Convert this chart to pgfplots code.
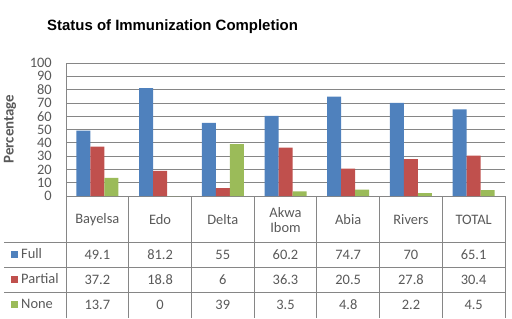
\documentclass[border=0pt]{standalone}
\usepackage{pgfplots}
\pgfplotsset{compat=1.18}
\usepackage{fontspec}
\setmainfont{Carlito}
\newfontfamily\titlefont{Liberation Sans}
\definecolor{cFull}{HTML}{4F81BD}
\definecolor{cPartial}{HTML}{C0504D}
\definecolor{cNone}{HTML}{9BBB59}
\definecolor{gridc}{HTML}{868686}
\definecolor{txt}{HTML}{595959}
\begin{document}
\begin{tikzpicture}[x=1bp,y=1bp]
\useasboundingbox (0,0) rectangle (512,318);
\begin{axis}[
  at={(66bp,122bp)}, anchor=south west,
  scale only axis, width=439bp, height=133bp,
  xmin=-0.5, xmax=6.5, ymin=0, ymax=100,
  ybar=0pt, bar width=14bp,
  axis lines*=left,
  axis line style={draw=gridc, line width=0.8bp, -},
  xtick=\empty,
  ytick={0,10,...,100},
  ymajorgrids, grid style={gridc, line width=0.8bp},
  major tick length=0pt,
  /pgf/number format/assume math mode=true,
  yticklabel style={font=\fontsize{14.5}{15}\selectfont, text=txt, anchor=east, inner sep=0pt, xshift=-14bp},
]
\addplot[fill=cFull, draw=none] coordinates {(0,49.1) (1,81.2) (2,55) (3,60.2) (4,74.7) (5,70) (6,65.1)};
\addplot[fill=cPartial, draw=none] coordinates {(0,37.2) (1,18.8) (2,6) (3,36.3) (4,20.5) (5,27.8) (6,30.4)};
\addplot[fill=cNone, draw=none] coordinates {(0,13.7) (1,0) (2,39) (3,3.5) (4,4.8) (5,2.2) (6,4.5)};
\end{axis}
% title and y label
\node[anchor=base west, inner sep=0pt, font=\titlefont\bfseries\fontsize{15}{18}\selectfont] at (47,288) {Status of Immunization Completion};
\node[rotate=90, inner sep=0pt, text=txt, font=\bfseries\fontsize{15}{18}\selectfont] at (10,189) {Percentage};
% data table
\draw[gridc, line width=0.8bp] (4,76) -- (505,76) (4,51) -- (505,51) (4,26) -- (505,26);
\foreach \k in {0,...,7} \draw[gridc, line width=0.8bp] ({66+62.714*\k},122) -- ({66+62.714*\k},0);
\foreach \lab [count=\i from 0] in {Bayelsa,Edo,Delta,{Akwa\\Ibom},Abia,Rivers,TOTAL}
  \node[align=center, text=txt, inner sep=0pt, font=\fontsize{14.5}{16}\selectfont] at ({66+62.714*(\i+0.5)},98) {\lab};
\foreach \v [count=\i from 0] in {49.1,81.2,55,60.2,74.7,70,65.1}
  \node[text=txt, inner sep=0pt, font=\fontsize{14.5}{16}\selectfont] at ({66+62.714*(\i+0.5)},63.5) {\v};
\foreach \v [count=\i from 0] in {37.2,18.8,6,36.3,20.5,27.8,30.4}
  \node[text=txt, inner sep=0pt, font=\fontsize{14.5}{16}\selectfont] at ({66+62.714*(\i+0.5)},38.5) {\v};
\foreach \v [count=\i from 0] in {13.7,0,39,3.5,4.8,2.2,4.5}
  \node[text=txt, inner sep=0pt, font=\fontsize{14.5}{16}\selectfont] at ({66+62.714*(\i+0.5)},13.5) {\v};
% legend keys
\fill[cFull] (11,60.5) rectangle (18,67.5);
\fill[cPartial] (11,35.5) rectangle (18,42.5);
\fill[cNone] (11,10.5) rectangle (18,17.5);
\node[anchor=west, text=txt, inner sep=0pt, font=\fontsize{14.5}{16}\selectfont] at (21,64) {Full};
\node[anchor=west, text=txt, inner sep=0pt, font=\fontsize{14.5}{16}\selectfont] at (21,39) {Partial};
\node[anchor=west, text=txt, inner sep=0pt, font=\fontsize{14.5}{16}\selectfont] at (21,14) {None};
\end{tikzpicture}
\end{document}
